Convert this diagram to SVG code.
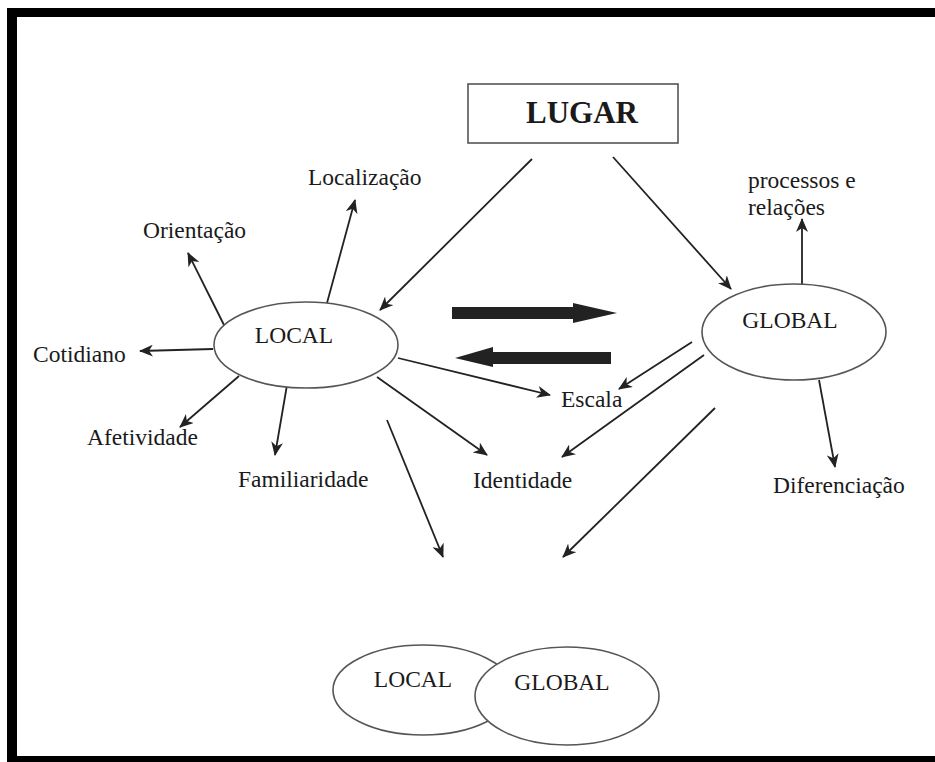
<svg xmlns="http://www.w3.org/2000/svg" width="935" height="762" viewBox="0 0 935 762">
<style>
.t{font-family:"Liberation Serif","Times New Roman",serif;font-size:23.5px;fill:#1a1a1a}
.b{font-weight:bold;font-size:31px}
.e{fill:#fff;stroke:#555;stroke-width:1.6}
.c{stroke:#222;stroke-width:1.8;fill:none;marker-end:url(#ah)}
.k{fill:#222}
</style>
<defs>
<marker id="ah" markerUnits="userSpaceOnUse" markerWidth="14" markerHeight="12" viewBox="0 0 14 12" refX="13" refY="6" orient="auto">
<path d="M0,0 L14,6 L0,12 L4,6 z" fill="#222"/>
</marker>
</defs>
<rect x="0" y="0" width="935" height="762" fill="#fff"/>
<g id="frame">
<rect x="7" y="8" width="928" height="9" fill="#000"/>
<rect x="7" y="8" width="10" height="754" fill="#000"/>
<rect x="7" y="756" width="928" height="6" fill="#000"/>
</g>
<g id="connectors">
<line class="c" x1="532" y1="159" x2="380" y2="310"/>
<line class="c" x1="613" y1="157" x2="731" y2="289"/>
<line class="c" x1="327" y1="303" x2="355" y2="200"/>
<line class="c" x1="224" y1="325" x2="188" y2="253"/>
<line class="c" x1="213" y1="349" x2="140" y2="351"/>
<line class="c" x1="239" y1="376" x2="180" y2="427"/>
<line class="c" x1="287" y1="385" x2="275" y2="455"/>
<line class="c" x1="398" y1="358" x2="550" y2="395"/>
<line class="c" x1="377" y1="377" x2="487" y2="455"/>
<line class="c" x1="387" y1="420" x2="443" y2="557"/>
<line class="c" x1="802" y1="289" x2="802" y2="219"/>
<line class="c" x1="692" y1="342" x2="619" y2="389"/>
<line class="c" x1="704" y1="355" x2="562" y2="457"/>
<line class="c" x1="819" y1="380" x2="835" y2="467"/>
<line class="c" x1="715" y1="408" x2="563" y2="557"/>
<polygon class="k" points="452,307 573,307 573,303 617,313 573,323 573,319 452,319"/>
<polygon class="k" points="611,352 493,352 493,347 455,358 493,367 493,364 611,364"/>
</g>
<g id="lugar">
<rect x="468" y="84" width="210" height="59" fill="#fff" stroke="#555" stroke-width="1.6"/>
<text class="t b" x="582" y="123" text-anchor="middle">LUGAR</text>
</g>
<g id="local">
<ellipse class="e" cx="306" cy="345" rx="92" ry="43"/>
<text class="t" x="294" y="343" text-anchor="middle">LOCAL</text>
</g>
<g id="global">
<ellipse class="e" cx="794" cy="332" rx="92" ry="48"/>
<text class="t" x="790" y="328" text-anchor="middle">GLOBAL</text>
</g>
<g id="localizacao"><text class="t" x="308" y="185">Localização</text></g>
<g id="orientacao"><text class="t" x="143" y="238">Orientação</text></g>
<g id="cotidiano"><text class="t" x="33" y="362">Cotidiano</text></g>
<g id="afetividade"><text class="t" x="87" y="445">Afetividade</text></g>
<g id="familiaridade"><text class="t" x="238" y="487">Familiaridade</text></g>
<g id="escala"><text class="t" x="561" y="407">Escala</text></g>
<g id="identidade"><text class="t" x="473" y="488">Identidade</text></g>
<g id="diferenciacao"><text class="t" x="773" y="493">Diferenciação</text></g>
<g id="processos"><text class="t" x="748" y="188">processos e</text><text class="t" x="748" y="215">relações</text></g>
<g id="local-global">
<ellipse class="e" cx="423" cy="690" rx="90" ry="45"/>
<ellipse class="e" cx="567" cy="696" rx="92" ry="49"/>
<text class="t" x="413" y="687" text-anchor="middle">LOCAL</text>
<text class="t" x="562" y="690" text-anchor="middle">GLOBAL</text>
</g>
</svg>
